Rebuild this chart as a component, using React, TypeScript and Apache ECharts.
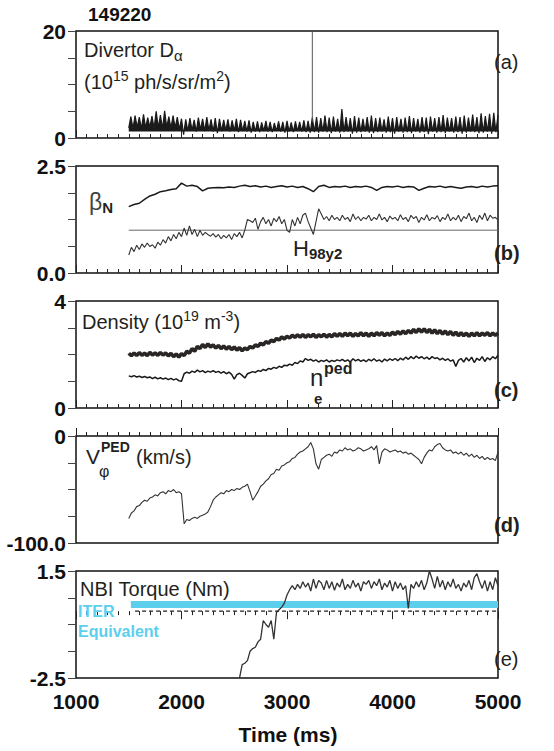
import React, { useEffect, useRef } from 'react';
import * as echarts from 'echarts';

const FONT = "'Liberation Sans', Arial, Helvetica, sans-serif";
const DARK = '#231f20';
const CYAN = '#5ccfec';

const SHOT = '149220';
const X_MIN = 1000;
const X_MAX = 5000;
const X_STEP = 1000;
const X_TITLE = 'Time (ms)';

// (a) Divertor D-alpha, sampled every 20 ms from 1500 ms
const DA_T0 = 1500;
const DA_DT = 20;
const DA = [
  1.9, 4.0, 1.8, 4.2, 2.0, 3.9, 1.7, 4.4, 1.9, 3.8, 2.0, 4.1, 1.8, 5.0, 1.9, 4.3, 1.7, 5.1, 2.0, 4.0, 1.8, 4.2, 1.9, 3.9, 1.6,
  3.6, 0.6, 3.5, 1.3, 3.7, 1.4, 3.4, 1.2, 3.8, 1.5, 3.6, 1.3, 3.9, 1.4, 3.5, 1.2, 3.7, 0.9, 3.6, 1.3, 3.4, 1.4, 3.5, 1.2, 3.3, 1.3, 3.6, 1.1, 3.4, 1.3, 3.2, 1.2, 3.3, 1.0,
  3.0, 1.2, 3.1, 1.1, 2.9, 1.3, 3.2, 1.2, 3.0, 1.1, 2.8, 1.3, 3.1, 1.2, 3.0, 1.0, 3.2, 1.2, 2.9, 1.1, 3.1, 1.3, 3.0, 1.2, 3.3, 1.1, 3.2, 1.0,
  3.8,
  1.1, 3.9, 1.0, 3.7, 1.2, 4.2, 1.1, 3.8, 0.9, 4.0, 1.2, 3.6, 1.0, 5.4, 1.1, 3.9, 1.2, 3.7, 0.8, 4.1,
  1.0, 3.8, 1.1, 3.6, 1.2, 3.9, 1.0, 4.2, 0.9, 3.7, 1.1, 3.8, 1.2, 3.5, 1.0, 4.0, 1.1, 3.7, 0.8, 3.9,
  1.2, 3.6, 1.0, 3.8, 1.1, 4.1, 0.9, 3.7, 1.2, 3.6, 1.0, 3.9, 1.1, 3.8, 0.7, 4.0, 1.2, 3.7, 1.0, 3.9,
  1.1, 4.3, 0.9, 3.8, 1.2, 3.7, 1.0, 4.0, 1.1, 3.9, 0.8, 4.2, 1.0, 3.8, 1.2, 4.4, 1.1, 3.9, 0.9, 4.6,
  1.0, 4.1, 1.2, 4.5, 0.8, 4.7, 1.1, 4.3,
];
// lower edge of the dense D-alpha band
const DA_BAND_FLOOR = 1.2;
// single spike reaching the top of the panel
const DA_SPIKE_T = 3240;
const DA_SPIKE = [3.0, 20];

// (b) beta_N every 50 ms, H98y2 every 25 ms
const BN_T0 = 1500;
const BN_DT = 50;
const BETA_N = [
  1.55, 1.6, 1.63, 1.72, 1.8, 1.84, 1.9, 1.92, 1.95, 1.97,
  2.1, 2.03, 2.05, 2.02, 1.92, 1.98, 1.99, 2.0, 1.99, 2.01,
  2.0, 2.03, 2.05, 2.02, 2.04, 2.01, 2.03, 2.0, 2.02, 2.04,
  2.01, 2.03, 2.0, 2.02, 1.97, 1.9, 2.02, 2.05, 2.0, 2.02,
  2.01, 2.03, 2.0, 2.02, 2.01, 2.03, 2.0, 1.93, 2.0, 2.02,
  2.01, 2.03, 2.0, 2.02, 2.01, 1.93, 1.98, 2.02, 2.01, 2.03,
  2.0, 2.02, 2.0, 1.98, 2.01, 2.02, 2.0, 2.03, 2.01, 2.03, 2.04,
];
const H98_T0 = 1500;
const H98_DT = 25;
const H98 = [
  0.42, 0.6, 0.5, 0.65, 0.55, 0.68, 0.6, 0.7, 0.62, 0.66, 0.58, 0.72, 0.65, 0.78, 0.7, 0.85, 0.75, 0.9, 0.8, 0.95, 0.85,
  1.05, 0.88, 1.1, 0.9, 1.02, 0.85, 1.0, 0.88, 0.95, 0.9, 0.86, 0.92, 0.84, 0.9, 0.8, 0.88, 0.82, 0.9, 0.78, 0.92,
  0.85, 0.95, 0.82, 1.0, 1.25, 1.22, 1.18, 1.28, 1.02, 1.2, 1.3, 1.15, 1.25, 1.1, 1.28, 1.2, 1.32, 1.15, 1.25, 1.0,
  0.95, 1.25, 1.1, 1.3, 1.15, 1.35, 1.4, 1.2, 1.05, 0.9, 1.2, 1.5, 1.38, 1.25, 1.32, 1.22, 1.35, 1.25, 1.3, 1.22,
  1.35, 1.25, 1.3, 1.2, 1.38, 1.25, 1.32, 1.22, 1.3, 1.26, 1.35, 1.22, 1.3, 1.25, 1.38, 1.24, 1.3, 1.2, 1.33, 1.26,
  1.3, 1.22, 1.36, 1.25, 1.3, 1.2, 1.35, 1.27, 1.32, 1.18, 1.3, 1.24, 1.36, 1.22, 1.3, 1.26, 1.34, 1.2, 1.3, 1.25,
  1.38, 1.22, 1.3, 1.24, 1.35, 1.2, 1.32, 1.27, 1.4, 1.22, 1.3, 1.18, 1.35, 1.25, 1.4, 1.22, 1.35, 1.28, 1.3, 1.24,
];
const H98_REF = 1.0;
const H98_REF_SPAN = [1500, 5000];

// (c) line-averaged density and pedestal density, every 25 ms
const DENS_T0 = 1500;
const DENS_DT = 25;
const DENSITY = [
  2.05, 1.95, 2.06, 1.96, 2.07, 1.97, 2.05, 1.96, 2.08, 1.98, 2.06, 1.97, 2.07, 1.98, 2.06, 1.95, 2.04, 1.92, 2.02, 1.9, 2.03,
  1.96, 2.12, 2.05, 2.22, 2.12, 2.3, 2.22, 2.38, 2.26, 2.4, 2.28, 2.36, 2.24, 2.34, 2.22, 2.32, 2.2, 2.3, 2.18, 2.28,
  2.16, 2.26, 2.14, 2.24, 2.18, 2.3, 2.24, 2.36, 2.3, 2.42, 2.36, 2.48, 2.42, 2.54, 2.48, 2.6, 2.54, 2.66, 2.58, 2.68,
  2.62, 2.72, 2.64, 2.74, 2.65, 2.75, 2.64, 2.74, 2.66, 2.76, 2.64, 2.74, 2.66, 2.76, 2.65, 2.75, 2.66, 2.78, 2.68, 2.78,
  2.68, 2.8, 2.7, 2.8, 2.68, 2.78, 2.7, 2.82, 2.7, 2.8, 2.68, 2.8, 2.7, 2.82, 2.72, 2.82, 2.7, 2.8, 2.72, 2.84,
  2.74, 2.86, 2.76, 2.88, 2.78, 2.9, 2.8, 2.94, 2.82, 2.96, 2.84, 2.96, 2.82, 2.94, 2.8, 2.92, 2.78, 2.9, 2.76, 2.88,
  2.74, 2.86, 2.72, 2.84, 2.7, 2.82, 2.7, 2.8, 2.68, 2.8, 2.7, 2.82, 2.7, 2.8, 2.72, 2.82, 2.7, 2.8, 2.72, 2.8,
];
const NE_PED = [
  1.2, 1.17, 1.21, 1.16, 1.19, 1.14, 1.18, 1.13, 1.16, 1.1, 1.15, 1.09, 1.13, 1.08, 1.12, 1.06, 1.11, 1.05, 1.09, 1.02, 1.0,
  1.28, 1.34, 1.3, 1.38, 1.33, 1.42, 1.35, 1.4, 1.32, 1.38, 1.34, 1.4, 1.33, 1.37, 1.3, 1.36, 1.28, 1.34, 1.26, 1.08,
  1.25, 1.3, 1.22, 1.12, 1.28, 1.32, 1.36, 1.33, 1.4, 1.37, 1.44, 1.4, 1.48, 1.45, 1.52, 1.48, 1.56, 1.52, 1.6, 1.58,
  1.64, 1.6, 1.7, 1.66, 1.76, 1.72, 1.85, 1.78, 1.82, 1.75, 1.8, 1.72, 1.78, 1.74, 1.8, 1.72, 1.78, 1.74, 1.8, 1.76,
  1.82, 1.74, 1.8, 1.72, 1.84, 1.76, 1.82, 1.74, 1.8, 1.73, 1.82, 1.76, 1.84, 1.75, 1.8, 1.72, 1.83, 1.76, 1.84, 1.78,
  1.85, 1.77, 1.86, 1.8, 1.9, 1.82, 1.92, 1.84, 1.94, 1.86, 1.92, 1.84, 1.9, 1.82, 1.92, 1.85, 1.88, 1.8, 1.86, 1.78,
  1.84, 1.75, 1.8, 1.55, 1.78, 1.85, 1.72, 1.88, 1.76, 1.9, 1.7, 1.86, 1.78, 1.92, 1.74, 1.88, 1.8, 1.92, 1.84, 1.97,
];

// (d) pedestal toroidal rotation, every 25 ms
const VPHI_T0 = 1500;
const VPHI_DT = 25;
const VPHI = [
  -77, -72, -70, -66, -65, -62, -60, -61, -58, -57, -55, -56, -53, -52, -54, -51, -52, -50, -53, -52, -54,
  -82, -78, -79, -77, -76, -77, -75, -74, -73, -71, -66, -60, -57, -55, -53, -54, -51, -52, -50, -51,
  -49, -50, -48, -47, -45, -52, -60, -56, -52, -47, -45, -42, -40, -36, -35, -31, -32, -28, -27, -25,
  -24, -21, -20, -17, -15, -14, -12, -10, -6, -12, -26, -31, -22, -20, -18, -17, -19, -15, -16, -13,
  -14, -11, -13, -12, -14, -13, -11, -12, -14, -13, -12, -10, -13, -9, -26, -15, -12, -13, -15, -14,
  -13, -15, -14, -16, -15, -17, -16, -18, -20, -22, -26, -20, -16, -13, -14, -10, -8, -7, -11, -13,
  -14, -13, -16, -15, -17, -15, -18, -16, -19, -17, -20, -18, -21, -19, -22, -20, -22, -21, -23, -15,
];

// (e) NBI torque
const TORQUE_T0 = 2550;
const TORQUE_DT = 25;
const TORQUE = [
  -2.5, -2.0, -1.95, -1.85, -1.5, -1.4, -1.35, -1.15, -1.05, -0.35, -0.5, -0.6, -0.35, -1.05, -0.05, 0.05, 0.15, 0.3, 0.6, 0.8,
  0.95, 0.8, 1.0, 0.85, 1.1, 0.9, 1.05, 0.75, 1.2, 0.85, 1.15, 1.05, 0.8, 1.15, 0.85, 1.1, 0.78, 1.05, 0.9, 1.2,
  0.8, 1.0, 0.85, 1.15, 0.9, 1.05, 0.75, 1.1, 1.0, 1.15, 0.85, 1.1, 0.95, 1.2, 0.8, 1.05, 0.9, 1.15, 0.75, 1.1,
  0.85, 1.05, 0.8, 0.95, 0.1, 1.0, 0.85, 1.1, 0.9, 1.15, 0.8, 1.05, 1.5, 1.2, 0.85, 1.3, 0.9, 1.15, 0.8, 1.1,
  0.9, 1.2, 0.85, 1.0, 0.75, 1.05, 0.9, 1.15, 0.8, 1.25, 1.4, 1.1, 0.85, 1.15, 0.75, 1.1, 0.8, 1.25, 0.95,
];
const ITER_BAND = [0.12, 0.38];
const ITER_BAND_SPAN = [1520, 5000];
const ITER_LINE = 0.0;
const ITER_LINE_SPAN = [1560, 5000];

// Y axes per panel
const Y_MIN = [0, 0, 0, -100, -2.5];
const Y_MAX = [20, 2.5, 4, 0, 1.5];
const Y_TICKS = [
  [0, 5, 10, 15, 20],
  [0, 0.625, 1.25, 1.875, 2.5],
  [0, 1, 2, 3, 4],
  [-100, -75, -50, -25, 0],
  [-2.5, -1.5, -0.5, 0.5, 1.5],
];
const Y_LABEL_TEXT = [
  ['0', '20'],
  ['0.0', '2.5'],
  ['0', '4'],
  ['-100.0', '0'],
  ['-2.5', '1.5'],
];

const LEFT = 76;
const WIDTH = 422;
const HEIGHT = 107;
const TOPS = [31, 166, 301, 436, 571];

function sampled(t0: number, dt: number, vals: number[]) {
  return vals.map((v, i) => [t0 + i * dt, v]);
}

function txt(x: number, y: number, text: string, o: any = {}) {
  return {
    type: 'text',
    x,
    y,
    silent: true,
    z: 100,
    style: {
      text,
      fill: o.color || DARK,
      fontFamily: FONT,
      fontSize: o.size || 20,
      fontWeight: o.weight || 'normal',
      align: o.align || 'left',
      verticalAlign: 'middle',
      rich: o.rich,
    },
  };
}

const RICH = {
  m: { fontFamily: FONT, fontSize: 20, lineHeight: 26, fill: DARK, color: DARK },
  big: { fontFamily: FONT, fontSize: 22, lineHeight: 26, fill: DARK, color: DARK },
  g: { fontFamily: FONT, fontSize: 23, lineHeight: 26, fill: '#444', color: '#444' },
  up: { fontFamily: FONT, fontSize: 14, lineHeight: 10, verticalAlign: 'top', fill: DARK, color: DARK },
  dn: { fontFamily: FONT, fontSize: 15, lineHeight: 10, verticalAlign: 'bottom', fill: DARK, color: DARK },
  dnb: { fontFamily: FONT, fontSize: 15, fontWeight: 'bold', lineHeight: 12, verticalAlign: 'bottom', fill: DARK, color: DARK },
};

export default function App() {
  const ref = useRef<HTMLDivElement>(null);
  useEffect(() => {
    document.body.style.margin = '0';
    if (!ref.current) return;
    const chart = echarts.init(ref.current, null, { renderer: 'svg' });

    const grids = TOPS.map((top) => ({
      left: LEFT,
      top,
      width: WIDTH,
      height: HEIGHT,
      show: true,
      borderColor: '#111',
      borderWidth: 1.5,
      backgroundColor: 'transparent',
    }));

    const xAxes = TOPS.map((_, i) => ({
      gridIndex: i,
      type: 'value',
      min: X_MIN,
      max: X_MAX,
      interval: X_STEP,
      axisLine: { show: false },
      axisTick: { show: true, inside: i < 4, length: 8, lineStyle: { color: '#222', width: 1 } },
      minorTick: { show: true, splitNumber: 10, length: 4, lineStyle: { color: '#222', width: 1 } },
      splitLine: { show: false },
      minorSplitLine: { show: false },
      axisLabel: {
        show: i === 4,
        formatter: (v: number) => String(v),
        fontFamily: FONT,
        fontSize: 21,
        fontWeight: 'bold',
        color: '#111',
        margin: 13,
      },
    }));

    const yAxes = TOPS.map((_, i) => ({
      gridIndex: i,
      type: 'value',
      min: Y_MIN[i],
      max: Y_MAX[i],
      axisLine: { show: false },
      axisTick: { show: true, inside: false, length: 8, lineStyle: { color: '#444', width: 1 }, customValues: Y_TICKS[i] },
      splitLine: { show: false },
      axisLabel: {
        show: true,
        customValues: [Y_MIN[i], Y_MAX[i]],
        formatter: (v: number) => (v === Y_MIN[i] ? Y_LABEL_TEXT[i][0] : Y_LABEL_TEXT[i][1]),
        fontFamily: FONT,
        fontSize: 21,
        fontWeight: 'bold',
        color: '#111',
        margin: 10,
      },
    }));

    const line = (idx: number, data: number[][], color: string, width: number, extra: any = {}) => ({
      type: 'line',
      xAxisIndex: idx,
      yAxisIndex: idx,
      data,
      symbol: 'none',
      showSymbol: false,
      silent: true,
      clip: true,
      lineStyle: { color, width },
      z: 3,
      ...extra,
    });

    const series: any[] = [
      line(0, sampled(DA_T0, DA_DT, DA), '#1a1a1a', 1.2, {
        areaStyle: { color: '#1a1a1a', opacity: 1, origin: DA_BAND_FLOOR },
      }),
      line(0, DA_SPIKE.map((v) => [DA_SPIKE_T, v]), '#555', 1),
      line(1, [[H98_REF_SPAN[0], H98_REF], [H98_REF_SPAN[1], H98_REF]], '#666', 1),
      line(1, sampled(BN_T0, BN_DT, BETA_N), '#1a1a1a', 1.5),
      line(1, sampled(H98_T0, H98_DT, H98), '#333', 1.1),
      line(2, sampled(DENS_T0, DENS_DT, DENSITY), '#2a2626', 3.6),
      line(2, sampled(DENS_T0, DENS_DT, NE_PED), '#1a1a1a', 1.5),
      line(3, sampled(VPHI_T0, VPHI_DT, VPHI), '#333', 1.1),
      line(4, [[ITER_BAND_SPAN[0], ITER_BAND[1]], [ITER_BAND_SPAN[1], ITER_BAND[1]]], CYAN, 0, {
        lineStyle: { width: 0, opacity: 0 },
        z: 1,
        markArea: {
          silent: true,
          itemStyle: { color: CYAN, opacity: 1 },
          data: [[{ xAxis: ITER_BAND_SPAN[0], yAxis: ITER_BAND[0] }, { xAxis: ITER_BAND_SPAN[1], yAxis: ITER_BAND[1] }]],
        },
      }),
      line(4, [[ITER_LINE_SPAN[0], ITER_LINE], [ITER_LINE_SPAN[1], ITER_LINE]], '#222', 1.4, {
        lineStyle: { color: '#222', width: 1.4, type: [4, 3] },
        z: 4,
      }),
      line(4, sampled(TORQUE_T0, TORQUE_DT, TORQUE), '#333', 1.3, { z: 5 }),
    ];

    const graphics = [
      txt(88, 14, SHOT, { size: 19, weight: 'bold', color: '#111' }),
      txt(84, 50, '{m|Divertor D}{dn|α}', { rich: RICH }),
      txt(84, 82, '{m|(10}{up|15}{m| ph/s/sr/m}{up|2}{m|)}', { rich: RICH }),
      txt(494, 62, '(a)'),
      txt(89, 202, '{g|β}{dnb|N}', { rich: RICH }),
      txt(293, 248, '{big|H}{dnb|98y2}', { rich: RICH }),
      txt(494, 253, '(b)', { weight: 'bold' }),
      txt(82, 322, '{m|Density (10}{up|19}{m| m}{up|-3}{m|)}', { rich: RICH }),
      txt(310, 377, 'n', { size: 24 }),
      txt(324, 368, 'ped', { size: 16, weight: 'bold' }),
      txt(314, 398, 'e', { size: 15, weight: 'bold' }),
      txt(494, 390, '(c)', { weight: 'bold' }),
      txt(86, 456, 'V', { size: 21 }),
      txt(101, 447, 'PED', { size: 14, weight: 'bold' }),
      txt(99, 471, 'φ', { size: 16 }),
      txt(136, 457, '(km/s)', { size: 20 }),
      txt(494, 525, '(d)', { weight: 'bold' }),
      txt(80, 589, 'NBI Torque (Nm)'),
      txt(78, 611, 'ITER', { size: 16, weight: 'bold', color: CYAN }),
      txt(78, 631, 'Equivalent', { size: 16, weight: 'bold', color: CYAN }),
      txt(494, 659, '(e)'),
      txt(288, 734, X_TITLE, { size: 21, weight: 'bold', align: 'center', color: '#111' }),
    ];

    chart.setOption({
      animation: false,
      backgroundColor: '#fff',
      grid: grids,
      xAxis: xAxes,
      yAxis: yAxes,
      series,
      graphic: { elements: graphics },
    });
    return () => chart.dispose();
  }, []);
  return <div ref={ref} style={{ width: 554, height: 751 }} />;
}
